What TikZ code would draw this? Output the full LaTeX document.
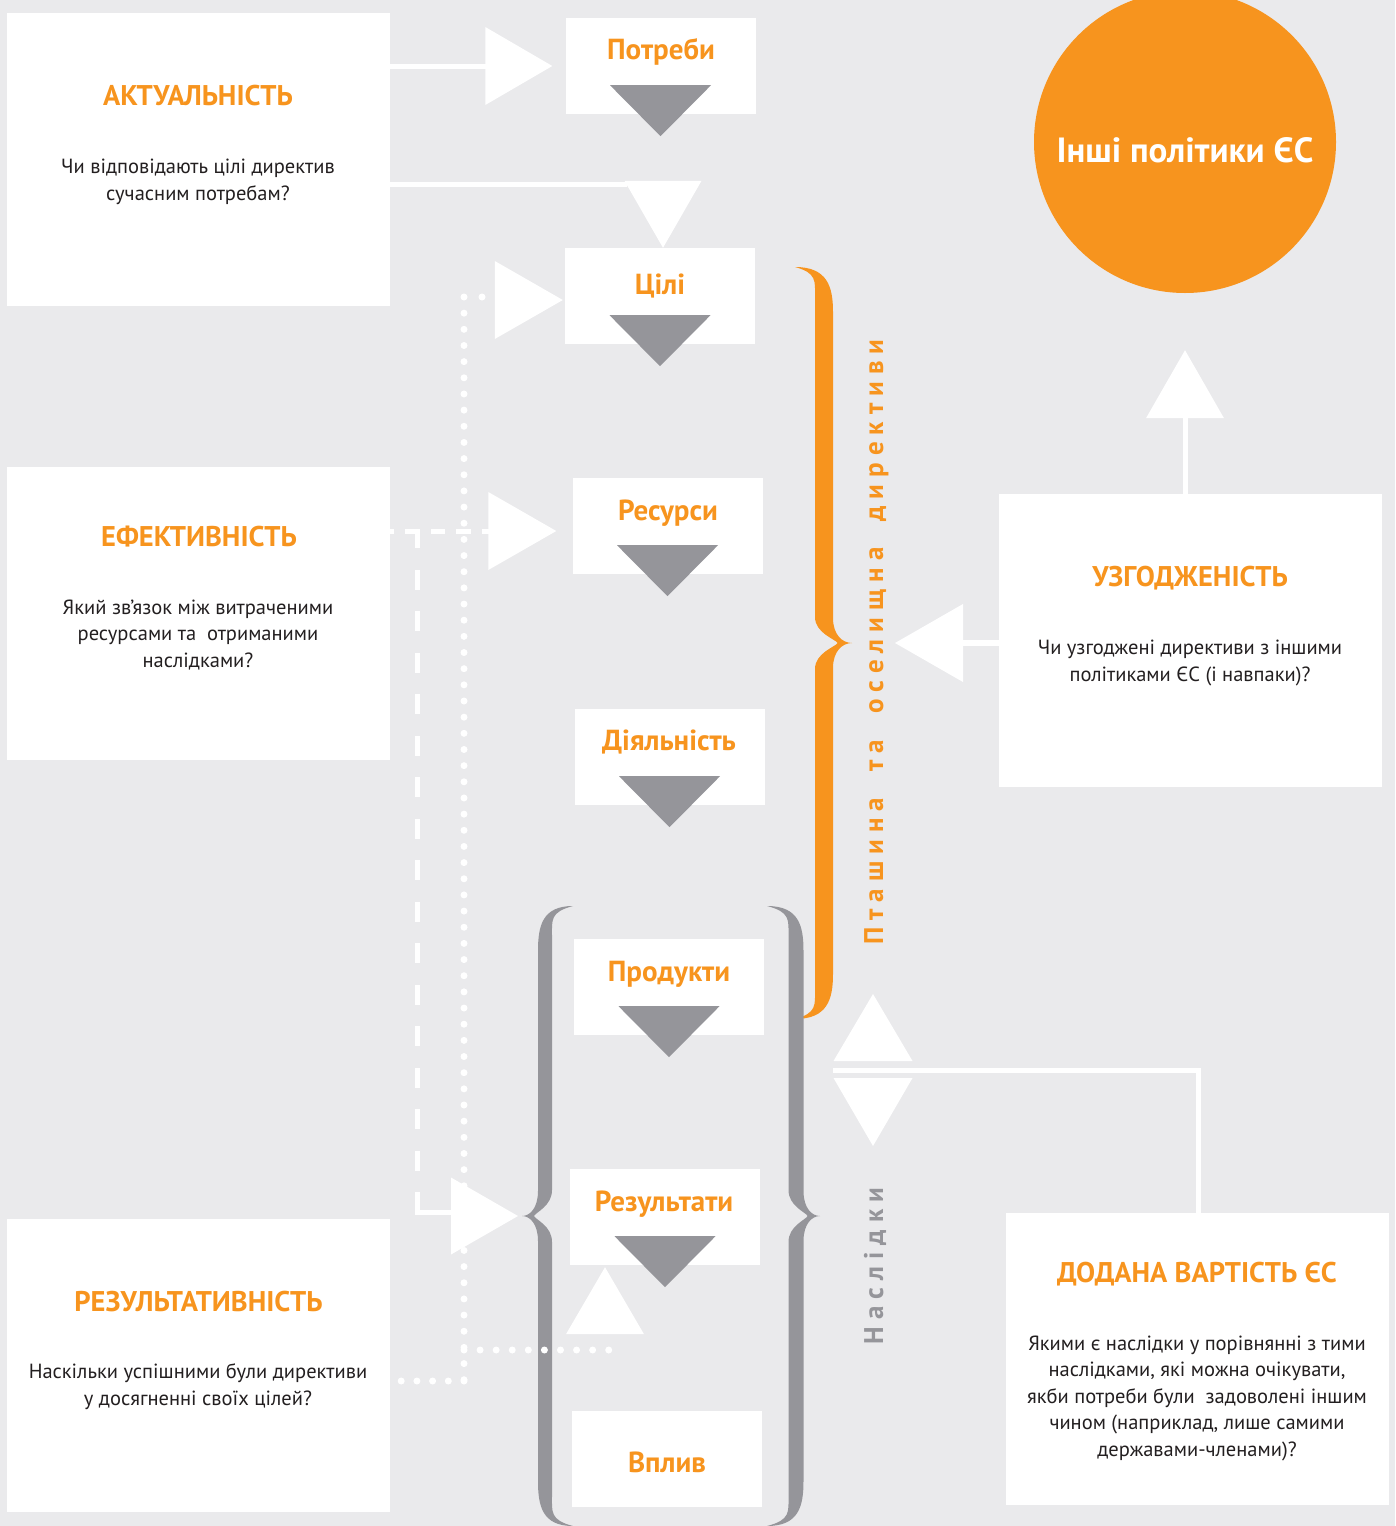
\documentclass[tikz,border=0pt]{standalone}
\usepackage{fontspec}
\setmainfont{PT Sans}
\usetikzlibrary{calc}

\definecolor{bg}{RGB}{234,234,236}
\definecolor{org}{RGB}{247,148,30}
\definecolor{gry}{RGB}{149,149,154}
\definecolor{ink}{RGB}{35,31,32}

% letter-spaced word: #1 = extra space, #2 = word
\makeatletter
\newcommand\trk[2]{\@tfor\trk@c:=#2\do{\trk@c\kern#1}\unkern}
\makeatother

% calligraphic right brace with its tip at the local origin
% #1 scope options, #2 tip-to-outer-edge, #3 stroke width, #4 half height, #5 end x, #6 colour
\newcommand\drawbrace[6]{%
  \begin{scope}[#1]
    \fill[#6] (#5,-#4)
      .. controls ({-#2-0.3*#3},-#4) and (-#2,{-#4+20}) .. (-#2,{-#4+45})
      -- (-#2,-25) .. controls (-#2,-8) and ({-0.5*#2},0) .. (0,0)
      .. controls ({-0.5*#2},0) and (-#2,8) .. (-#2,25)
      -- (-#2,{#4-45}) .. controls (-#2,{#4-20}) and ({-#2-0.3*#3},#4) .. (#5,#4)
      .. controls ({-#2-#3+2},{#4-6}) and ({-#2-#3},{#4-14}) .. ({-#2-#3},{#4-30})
      -- ({-#2-#3},26) .. controls ({-#2-#3},10) and ({-#2+2},4) .. ({-0.75*#2},0)
      .. controls ({-#2+2},-4) and ({-#2-#3},-10) .. ({-#2-#3},-26)
      -- ({-#2-#3},{-#4+30}) .. controls ({-#2-#3},{-#4+14}) and ({-#2-#3+2},{-#4+6}) .. cycle;
  \end{scope}}

% grey pointer below a stage box
\newcommand\stagetri[1]{%
  \fill[gry] ($(#1.south)+(-50.5,-29)$) -- ($(#1.south)+(50.5,-29)$) -- ($(#1.south)+(0,22)$) -- cycle;}

\tikzset{
  panel/.style={fill=white, inner sep=0pt, minimum width=383pt, minimum height=293pt},
  stage/.style={fill=white, inner sep=0pt, minimum width=190pt, minimum height=96pt},
  heading/.style={anchor=base, text=org, inner sep=0pt, font=\fontsize{28.5}{30}\selectfont\bfseries},
  question/.style={anchor=base, text=ink, inner sep=0pt, align=center, font=\fontsize{20.5}{26.5}\selectfont},
  stagelabel/.style={anchor=base, text=org, inner sep=0pt, font=\fontsize{29}{32}\selectfont\bfseries},
  sidetitle/.style={anchor=base, rotate=90, inner sep=0pt, font=\fontsize{27}{30}\selectfont\bfseries},
  link/.style={draw=white, line width=5pt},
  dashlink/.style={link, dash pattern=on 14.5pt off 11pt, dash phase=10.5pt},
  dotlink/.style={draw=white, line width=7pt, line cap=round},
  head/.style={fill=white},
}

\begin{document}
\begin{tikzpicture}[x=1pt,y=-1pt]
\useasboundingbox (0,0) rectangle (1395,1526);
\fill[bg] (0,0) rectangle (1395,1526);

% question panels
\node[panel] (akt) at (198.5,159.5) {};
\node[panel] (eff) at (198.5,613.5) {};
\node[panel] (rsl) at (198.5,1365.5) {};
\node[panel] (uzg) at (1190.5,640.5) {};
\node[panel, minimum height=292pt] (dod) at (1197.5,1359) {};

% intervention logic stages
\node[stage] (potr) at (660.5,66) {};
\node[stage] (cil) at (660,296) {};
\node[stage] (resu) at (667.5,526) {};
\node[stage] (dial) at (669.5,757) {};
\node[stage] (prod) at (669,987) {};
\node[stage] (rezu) at (665,1217) {};
\node[stage] (vpl) at (667,1458.5) {};

% other EU policies
\node[circle, fill=org, inner sep=0pt, minimum size=302pt] (eu) at (1185,142) {};

% braces
\drawbrace{shift={(852,643)}}{19}{18}{376}{-57}{org}
\drawbrace{shift={(820,1216)}}{16.5}{15}{310}{-53}{gry}
\drawbrace{shift={(522,1216)}, xscale=-1}{16}{14}{310}{-51}{gry}

% effectiveness: dotted path from the panel to objectives and results
\coordinate (d0) at (482,297);
\coordinate (d1) at (464,297);
\coordinate (d2) at (464,1381);
\coordinate (d3) at ($(rsl.east)+(11,15.5)$);
\coordinate (d4) at (464,1350);
\coordinate (d5) at (609,1350);
\fill[white] (d0) circle (3.5pt);
\draw[dotlink, dash pattern=on 0pt off 16.16pt] (d1) -- (d2);
\draw[dotlink, dash pattern=on 0pt off 15.7pt] (d2) -- (d3);
\draw[dotlink, dash pattern=on 0pt off 16.08pt] (d4) -- (d5);

% efficiency: dashed path from the panel to resources and outputs
\coordinate (e1) at (417,531);
\coordinate (e2) at (417,1212);
\draw[dashlink] (eff.east |- e1) -- (500,531);
\draw[link, dash pattern=on 20pt off 21.5pt, dash phase=3pt] (e1) -- (e2);
\draw[link] ($(e2)+(-2.5,0)$) -- (470,1212);

% arrow tips
\coordinate (t1) at ($(potr.west)+(-13,0)$);
\coordinate (t2) at ($(cil.north)+(3,0)$);
\coordinate (t3) at ($(cil.west)+(-2,4)$);
\coordinate (t4) at ($(resu.west)+(-16,5)$);
\coordinate (t5) at (518,1216);
\coordinate (t6) at ($(rezu.south)+(-60,2)$);
\coordinate (t7) at (895,643);
\coordinate (t8) at ($(eu.south)+(0,57)$);
\coordinate (t9) at (873,994);
\coordinate (t10) at (873,1146);
\coordinate (k2) at (627,184);
\coordinate (m1) at (1198,1070);
\coordinate (m2) at (833,1070);

% relevance links
\draw[link] (akt.east |- t1) -- ($(t1)+(-50,0)$);
\draw[link] (akt.east |- k2) -- (k2);
% coherence links
\draw[link, line width=6pt] (uzg.west |- t7) -- ($(t7)+(50,0)$);
\draw[link] (uzg.north -| t8) -- ($(t8)+(0,50)$);
% EU added value link
\draw[link] (dod.north -| m1) -- (m1) -- (m2);

\fill[head] (t1) -- ++(-67,-39) -- ++(0,78) -- cycle;
\fill[head] (t2) -- ++(-38.5,-67) -- ++(77,0) -- cycle;
\fill[head] (t3) -- ++(-68,-39) -- ++(0,78) -- cycle;
\fill[head] (t4) -- ++(-68,-39) -- ++(0,78) -- cycle;
\fill[head] (t5) -- ++(-67,-38.5) -- ++(0,77) -- cycle;
\fill[head] (t6) -- ++(-39,67) -- ++(78,0) -- cycle;
\fill[head] (t7) -- ++(68,-39) -- ++(0,78) -- cycle;
\fill[head] (t8) -- ++(-39,68) -- ++(78,0) -- cycle;
\fill[head] (t9) -- ++(-39.5,67) -- ++(79,0) -- cycle;
\fill[head] (t10) -- ++(-39.5,-68) -- ++(79,0) -- cycle;

% pointers between stages
\stagetri{potr}
\stagetri{cil}
\stagetri{resu}
\stagetri{dial}
\stagetri{prod}
\stagetri{rezu}

% stage labels
\node[stagelabel] (potrL) at (661,59) {Потреби};
\node[stagelabel] (cilL) at (660,294) {Цілі};
\node[stagelabel] (resuL) at (668,520) {Ресурси};
\node[stagelabel] (dialL) at (669,750) {Діяльність};
\node[stagelabel] (prodL) at (669,981) {Продукти};
\node[stagelabel] (rezuL) at (664,1211) {Результати};
\node[stagelabel] (vplL) at (667,1472) {Вплив};

\node[anchor=base, text=white, inner sep=0pt, font=\fontsize{35}{40}\selectfont\bfseries] (euL) at (1185,162) {Інші політики ЄС};

% panel texts (question nodes sit on the baseline of their last line)
\node[heading] (aktT) at (198,105) {АКТУАЛЬНІСТЬ};
\node[question] (aktQ) at (198,200) {Чи відповідають цілі директив\\сучасним потребам?};
\node[heading] (effT) at (199,546) {ЕФЕКТИВНІСТЬ};
\node[question] (effQ) at (198,667) {Який зв’язок між витраченими\\ресурсами та~ отриманими\\наслідками?};
\node[heading] (rslT) at (198.5,1311) {РЕЗУЛЬТАТИВНІСТЬ};
\node[question] (rslQ) at (198,1405) {Наскільки успішними були директиви\\у досягненні своїх цілей?};
\node[heading] (uzgT) at (1190,586) {УЗГОДЖЕНІСТЬ};
\node[question] (uzgQ) at (1190,681) {Чи узгоджені директиви з іншими\\політиками ЄС (і навпаки)?};
\node[heading] (dodT) at (1197,1282) {ДОДАНА ВАРТІСТЬ ЄС};
\node[question] (dodQ) at (1197,1456) {Якими є наслідки у порівнянні з тими\\наслідками, які можна очікувати,\\якби потреби були~ задоволені іншим\\чином (наприклад, лише самими\\державами-членами)?};

% side titles
\node[sidetitle, text=org] (dirT) at (883,642) {\trk{7pt}{Пташина}\hspace{26pt}\trk{7pt}{та}\hspace{26pt}\trk{7pt}{оселищна}\hspace{26pt}\trk{7pt}{директиви}};
\node[sidetitle, text=gry] (naslT) at (883,1266) {\trk{7pt}{Наслідки}};
\end{tikzpicture}
\end{document}
